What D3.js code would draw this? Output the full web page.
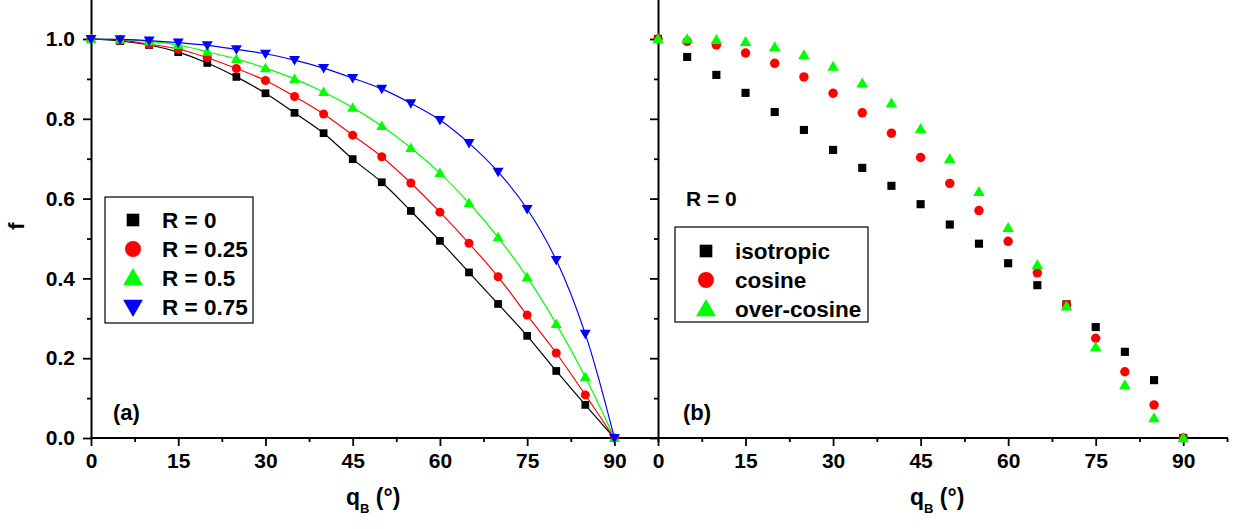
<!DOCTYPE html>
<html>
<head>
<meta charset="utf-8">
<script src="https://cdn.jsdelivr.net/npm/d3@7"></script>
<style>
  body { margin: 0; background: #fff; }
  svg text { font-family: "Liberation Sans", Arial, sans-serif; font-weight: bold; }
</style>
</head>
<body>
<div id="chart"></div>
<script>
// angles (deg) shared by every series
const angles = [0, 5, 10, 15, 20, 25, 30, 35, 40, 45, 50, 55, 60, 65, 70, 75, 80, 85, 90];

// panel (a): f vs angle for several R
const fR0   = [1.0, 0.995, 0.985, 0.967, 0.94, 0.905, 0.864, 0.815, 0.764, 0.699, 0.641, 0.569, 0.494, 0.415, 0.336, 0.256, 0.168, 0.083, 0];
const fR025 = [1.0, 0.997, 0.987, 0.975, 0.953, 0.926, 0.896, 0.856, 0.812, 0.759, 0.705, 0.639, 0.566, 0.488, 0.404, 0.308, 0.213, 0.108, 0];
const fR05  = [1.0, 0.999, 0.994, 0.985, 0.968, 0.95, 0.927, 0.9, 0.867, 0.828, 0.782, 0.727, 0.664, 0.589, 0.503, 0.403, 0.286, 0.153, 0];
const fR075 = [1.0, 0.999, 0.996, 0.991, 0.984, 0.974, 0.963, 0.947, 0.927, 0.902, 0.875, 0.839, 0.797, 0.739, 0.667, 0.574, 0.446, 0.261, 0];

// panel (b): R = 0, different distributions
const fIso  = [1.0, 0.955, 0.91, 0.865, 0.817, 0.772, 0.722, 0.677, 0.632, 0.586, 0.535, 0.487, 0.438, 0.383, 0.335, 0.278, 0.216, 0.145, 0];
const fCos  = [1.0, 0.994, 0.985, 0.965, 0.939, 0.905, 0.864, 0.815, 0.764, 0.703, 0.638, 0.57, 0.493, 0.414, 0.334, 0.25, 0.166, 0.083, 0];
const fOver = [1.0, 1.0, 0.998, 0.993, 0.98, 0.96, 0.931, 0.889, 0.839, 0.775, 0.70, 0.617, 0.527, 0.434, 0.33, 0.228, 0.133, 0.05, 0];

const seriesA = [
    {name: "R = 0",    values: fR0,   color: "#000000", symbol: "square"},
    {name: "R = 0.25", values: fR025, color: "#ff0000", symbol: "circle"},
    {name: "R = 0.5",  values: fR05,  color: "#00ff00", symbol: "up"},
    {name: "R = 0.75", values: fR075, color: "#0000ff", symbol: "down"}
];
const seriesB = [
    {name: "isotropic",   values: fIso,  color: "#000000", symbol: "square"},
    {name: "cosine",      values: fCos,  color: "#ff0000", symbol: "circle"},
    {name: "over-cosine", values: fOver, color: "#00ff00", symbol: "up"}
];

const xMajor = [0, 15, 30, 45, 60, 75, 90];
const xMinor = [7.5, 22.5, 37.5, 52.5, 67.5, 82.5, 97.5];
const yMajor = [0, 0.2, 0.4, 0.6, 0.8, 1.0];
const yMinor = [0.1, 0.3, 0.5, 0.7, 0.9];

const W = 1234, H = 529;
const svg = d3.select("#chart").append("svg").attr("width", W).attr("height", H);

const y = d3.scaleLinear().domain([0, 1.1]).range([438, -0.9]);
const xa = d3.scaleLinear().domain([0, 97.5]).range([91, 658]);
const xb = d3.scaleLinear().domain([0, 97.5]).range([658, 1227]);

function symbolPath(kind, size) {
    if (kind === "square") return d3.symbol(d3.symbolSquare, size)();
    if (kind === "circle") return d3.symbol(d3.symbolCircle, size)();
    return d3.symbol(d3.symbolTriangle, size)();
}
function symbolTransform(kind, px, py, size) {
    if (kind === "up") return `translate(${px},${py + Math.sqrt(size) * 0.12})`;
    if (kind === "down") return `translate(${px},${py - Math.sqrt(size) * 0.12}) rotate(180)`;
    return `translate(${px},${py})`;
}
const markSize = {square: 60, circle: 64, up: 52, down: 52};
const legendSize = {square: 160, circle: 200, up: 170, down: 170};

function styleAxis(g) {
    g.select(".domain").attr("stroke", "#000").attr("stroke-width", 2);
    g.selectAll(".tick line").attr("stroke", "#000").attr("stroke-width", 1.8);
    g.selectAll(".tick text").attr("fill", "#000").style("font-size", "21px");
}

function drawXAxis(x, x1) {
    svg.append("g")
        .attr("transform", "translate(0,438)")
        .call(d3.axisBottom(x).tickValues(xMajor).tickSize(8).tickSizeOuter(0).tickPadding(7).tickFormat(d3.format("d")))
        .call(styleAxis)
        .call(g => g.select(".domain").attr("d", `M${x.range()[0]},0H${x1}`));
    svg.append("g")
        .attr("transform", "translate(0,438)")
        .call(d3.axisBottom(x).tickValues(xMinor).tickSize(4).tickSizeOuter(0).tickFormat(""))
        .call(styleAxis)
        .call(g => g.select(".domain").remove());
}

// left y axis of panel (a)
svg.append("g")
    .attr("transform", `translate(${xa(0)},0)`)
    .call(d3.axisLeft(y).tickValues(yMajor).tickSize(8).tickSizeOuter(0).tickPadding(8).tickFormat(d3.format(".1f")))
    .call(styleAxis);
svg.append("g")
    .attr("transform", `translate(${xa(0)},0)`)
    .call(d3.axisLeft(y).tickValues(yMinor).tickSize(4).tickSizeOuter(0).tickFormat(""))
    .call(styleAxis)
    .call(g => g.select(".domain").remove());

// shared middle axis
svg.append("g")
    .attr("transform", `translate(${xb(0)},0)`)
    .call(d3.axisLeft(y).tickValues(yMajor).tickSize(8).tickSizeOuter(0).tickFormat(""))
    .call(styleAxis);
svg.append("g")
    .attr("transform", `translate(${xb(0)},0)`)
    .call(d3.axisLeft(y).tickValues(yMinor).tickSize(4).tickSizeOuter(0).tickFormat(""))
    .call(styleAxis)
    .call(g => g.select(".domain").remove());

drawXAxis(xa, 658);
drawXAxis(xb, 1228);

// panel (a) curves and markers
const line = d3.line()
    .x((d, i) => xa(angles[i]))
    .y(d => y(d))
    .curve(d3.curveCatmullRom);

seriesA.forEach(s => {
    svg.append("path")
        .datum(s.values)
        .attr("d", line)
        .attr("fill", "none")
        .attr("stroke", s.color)
        .attr("stroke-width", 1.2);
});
seriesA.forEach(s => {
    svg.append("g").selectAll("path")
        .data(s.values)
        .enter().append("path")
        .attr("d", symbolPath(s.symbol, markSize[s.symbol]))
        .attr("transform", (d, i) => symbolTransform(s.symbol, xa(angles[i]), y(d), markSize[s.symbol]))
        .attr("fill", s.color);
});

// panel (b) markers
seriesB.forEach(s => {
    svg.append("g").selectAll("path")
        .data(s.values)
        .enter().append("path")
        .attr("d", symbolPath(s.symbol, markSize[s.symbol] + 6))
        .attr("transform", (d, i) => symbolTransform(s.symbol, xb(angles[i]), y(d), markSize[s.symbol] + 6))
        .attr("fill", s.color);
});

// legends
function drawLegend(series, box, symX, textX, rowY) {
    svg.append("rect")
        .attr("x", box[0]).attr("y", box[1])
        .attr("width", box[2]).attr("height", box[3])
        .attr("fill", "#fff").attr("stroke", "#000").attr("stroke-width", 1.2);
    series.forEach((s, i) => {
        const sz = legendSize[s.symbol];
        svg.append("path")
            .attr("d", symbolPath(s.symbol, sz))
            .attr("transform", symbolTransform(s.symbol, symX, rowY[i], sz))
            .attr("fill", s.color);
        svg.append("text")
            .attr("x", textX).attr("y", rowY[i])
            .attr("dy", "0.36em")
            .style("font-size", "22.5px")
            .text(s.name);
    });
}
drawLegend(seriesA, [105, 197, 148, 126], 133, 162, [220, 249, 278, 307]);
drawLegend(seriesB, [675, 227, 193, 95], 706, 735, [251, 280, 309]);

// annotations
svg.append("text").attr("x", 113).attr("y", 420).style("font-size", "22px").text("(a)");
svg.append("text").attr("x", 683).attr("y", 420).style("font-size", "22px").text("(b)");
svg.append("text").attr("x", 686).attr("y", 206).style("font-size", "21px").text("R = 0");

// axis titles
function xTitle(x0) {
    const t = svg.append("text").attr("x", x0).attr("y", 505).style("font-size", "23px");
    t.append("tspan").text("q");
    t.append("tspan").attr("dy", 8).style("font-size", "13px").text("B");
    t.append("tspan").attr("dy", -8).text(" (°)");
}
xTitle(346);
xTitle(910);

svg.append("text")
    .attr("transform", "translate(24,226) rotate(-90)")
    .attr("text-anchor", "middle")
    .style("font-size", "22px")
    .text("f");
</script>
</body>
</html>
